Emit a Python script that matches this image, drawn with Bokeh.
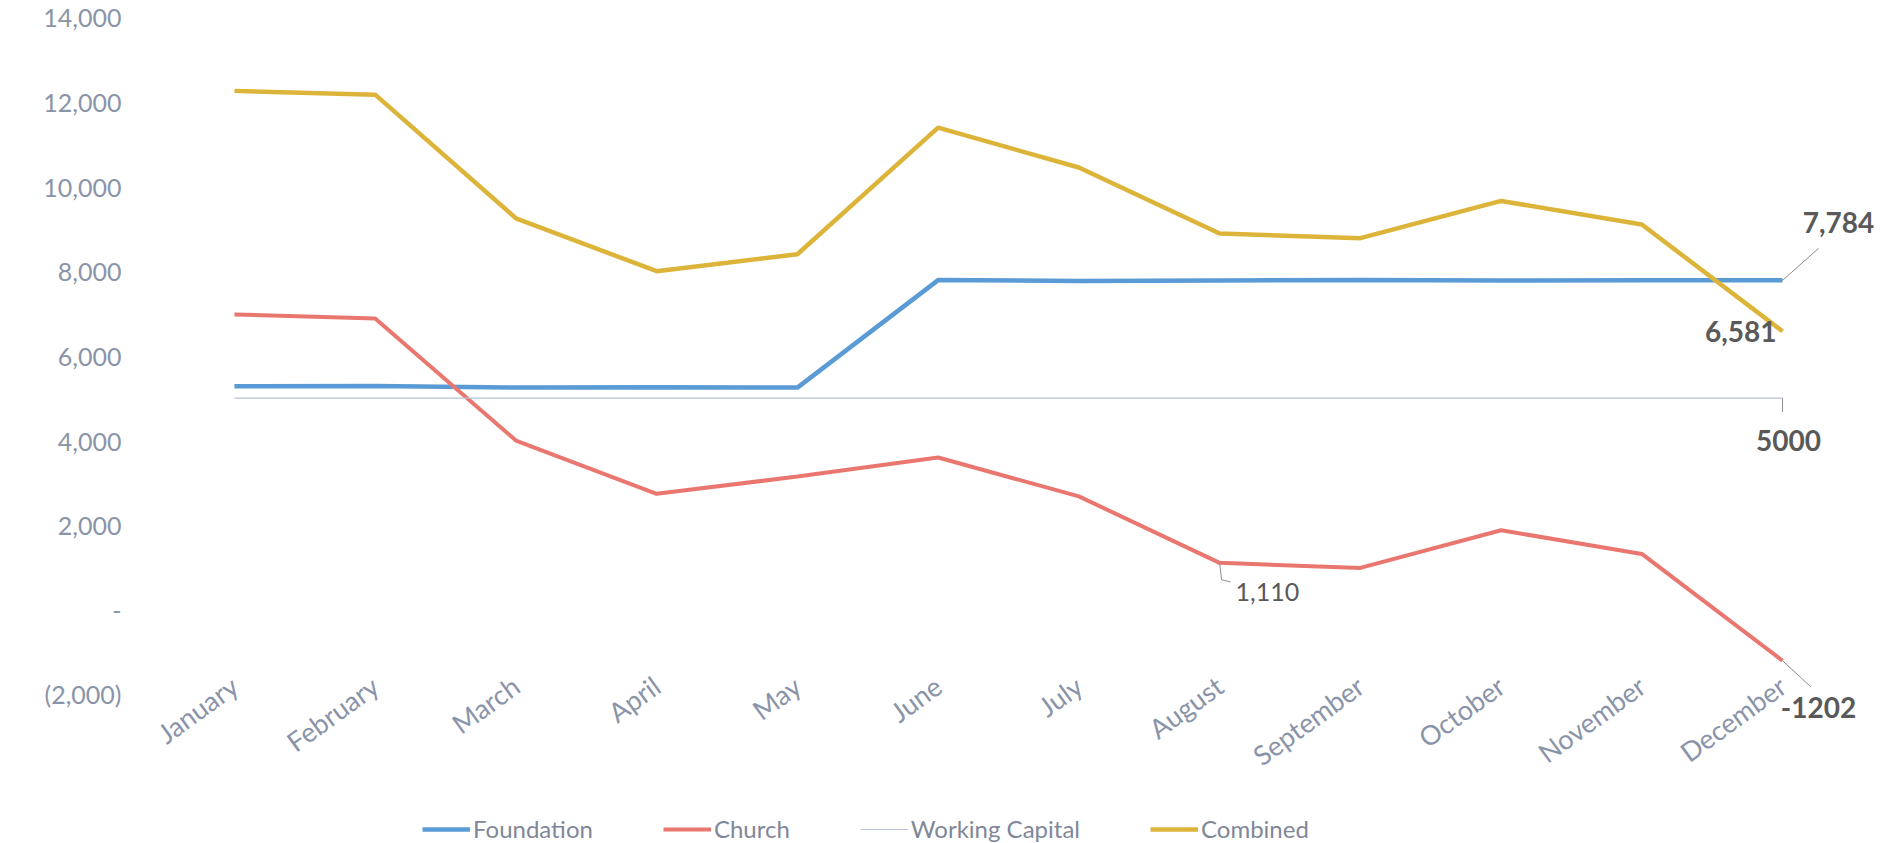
import numpy as np
from bokeh.plotting import figure
from bokeh.models import (Range1d, FixedTicker, CustomJSTickFormatter, Legend,
                          LegendItem, Label)
from bokeh.embed import file_html
from bokeh.resources import INLINE

# ---- data -------------------------------------------------------------
months = ["January", "February", "March", "April", "May", "June", "July",
          "August", "September", "October", "November", "December"]
foundation = [5280, 5290, 5250, 5260, 5250, 7790, 7770, 7780, 7790, 7780, 7784, 7784]
church = [6980, 6880, 4000, 2740, 3150, 3600, 2680, 1110, 990, 1880, 1320, -1202]
working_capital = [5000, 5000, 5000, 5000, 5000, 5000, 5000, 5000, 5000, 5000, 5000, 5000]
combined = [12260, 12170, 9250, 8000, 8400, 11390, 10450, 8890, 8780, 9660, 9104, 6581]
y_ticks = [-2000, 0, 2000, 4000, 6000, 8000, 10000, 12000, 14000]

x = list(range(len(months)))

FONT = "Lato"
TICK_COLOR = "#8a94a8"
LABEL_COLOR = "#595959"

p = figure(frame_width=1717, frame_height=843,
           x_range=Range1d(-0.497, 11.703), y_range=Range1d(-5520, 14395),
           output_backend="svg", toolbar_location=None,
           min_border_left=164, min_border_right=0, min_border_top=0,
           min_border_bottom=0)
p.outline_line_color = None
p.xgrid.visible = False
p.ygrid.visible = False

r_f = p.line(x, foundation, line_color="#5b9bd5", line_width=4.5)
r_c = p.line(x, church, line_color="#e9776f", line_width=4)
r_w = p.line(x, working_capital, line_color="#b8c2d6", line_width=1.2)
r_k = p.line(x, combined, line_color="#ddb43a", line_width=4.5)

# axes
p.xaxis.ticker = FixedTicker(ticks=x)
p.xaxis.major_label_overrides = {i: m for i, m in zip(x, months)}
p.xaxis.major_label_orientation = 0.63
p.yaxis.ticker = FixedTicker(ticks=y_ticks)
p.yaxis.formatter = CustomJSTickFormatter(code="""
    if (tick == 0) return '-';
    const s = Math.abs(tick).toLocaleString('en-US');
    return tick < 0 ? '(' + s + ')' : s;
""")
for ax in (p.xaxis, p.yaxis):
    ax.axis_line_color = None
    ax.major_tick_line_color = None
    ax.minor_tick_line_color = None
    ax.major_tick_out = 0
    ax.major_tick_in = 0
    ax.major_label_text_font = FONT
    ax.major_label_text_color = TICK_COLOR
p.yaxis.major_label_text_font_size = "25px"
p.xaxis.major_label_text_font_size = "27px"
p.yaxis.major_label_standoff = 43
p.xaxis.major_label_standoff = -161

# legend (inside the frame, at its bottom)
legend = Legend(items=[LegendItem(label="Foundation", renderers=[r_f]),
                       LegendItem(label="Church", renderers=[r_c]),
                       LegendItem(label="Working Capital", renderers=[r_w]),
                       LegendItem(label="Combined", renderers=[r_k])],
                orientation="horizontal", location=(258, 0),
                label_text_font=FONT, label_text_font_size="24px",
                label_text_color="#7f8799", glyph_width=48, label_standoff=3,
                spacing=70, border_line_color=None, background_fill_alpha=0,
                padding=0, margin=0)
p.add_layout(legend, "center")

# data labels with leader lines
lead = dict(line_color="#8c8c8c", line_width=1)
lab = dict(text_baseline="middle", text_font=FONT, text_font_size="28px",
           text_font_style="bold", text_color=LABEL_COLOR)

xd, fd = x[11], foundation[11]
p.segment([xd], [fd], [xd + 0.256], [fd + 756], **lead)
p.add_layout(Label(x=xd, y=fd, text=f"{fd:,}", x_offset=56, y_offset=58,
                   text_align="center", **lab))

kd = combined[11]
p.add_layout(Label(x=xd, y=kd, text=f"{kd:,}", x_offset=-6, y_offset=0,
                   text_align="right", **lab))

wd = working_capital[11]
p.segment([xd], [wd], [xd], [wd - 330], **lead)
p.add_layout(Label(x=xd, y=wd, text=f"{wd}", x_offset=6, y_offset=-42,
                   text_align="center", **lab))

xa, ca = x[7], church[7]
p.line([xa, xa + 0.014, xa + 0.078], [ca, ca - 400, ca - 450], **lead)
p.add_layout(Label(x=xa, y=ca, text=f"{ca:,}", x_offset=16, y_offset=-29,
                   text_align="left", text_baseline="middle",
                   text_font=FONT, text_font_size="25px",
                   text_color=LABEL_COLOR))

cd = church[11]
p.segment([xd], [cd], [xd + 0.2], [cd - 614], **lead)
p.add_layout(Label(x=xd, y=cd, text=f"{cd}", x_offset=36, y_offset=-47,
                   text_align="center", **lab))

open("out.html", "w").write(file_html(p, INLINE))
